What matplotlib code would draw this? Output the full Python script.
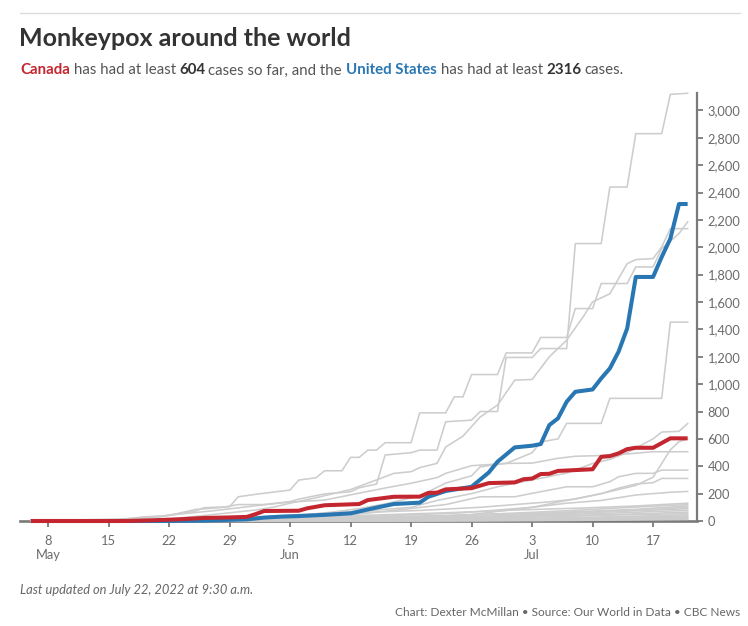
import matplotlib
matplotlib.use("Agg")
import matplotlib.pyplot as plt
import numpy as np
import pandas as pd

# ---------------- data (days since 2022-05-06, cumulative cases) ----------------
START = pd.Timestamp("2022-05-06")

canada_days = [0, 11, 14, 17, 20, 23, 25, 26, 27, 31, 32, 34, 38, 39, 42, 45, 46, 47, 48, 51,
               53, 56, 57, 58, 59, 60, 61, 63, 65, 66, 67, 68, 69, 70, 72, 74, 76]
canada_cases = [0, 0, 5, 12, 22, 26, 30, 50, 73, 75, 93, 115, 124, 153, 177, 178, 205, 207, 231, 240,
                277, 282, 305, 310, 343, 345, 366, 372, 378, 469, 474, 494, 525, 535, 535, 604, 604]

us_days = [0, 15, 20, 25, 27, 29, 31, 34, 37, 38, 40, 42, 45, 46, 48, 51, 53, 54, 56, 58,
           59, 60, 61, 62, 63, 65, 66, 67, 68, 69, 70, 72, 73, 74, 75, 76]
us_cases = [0, 0, 3, 12, 25, 32, 36, 45, 56, 70, 98, 124, 134, 177, 219, 250, 355, 433, 538, 550,
            562, 701, 750, 871, 944, 961, 1042, 1115, 1236, 1406, 1783, 1783, 1929, 2063, 2316, 2316]

uk_days = [0, 8, 11, 13, 15, 16, 19, 20, 23, 24, 26, 30, 31, 33, 34, 36, 37, 38, 39, 40,
           41, 44, 45, 48, 49, 50, 51, 54, 55, 58, 59, 62, 63, 65, 66, 69, 70, 72, 73, 75, 76]
uk_cases = [5, 7, 9, 20, 31, 44, 71, 97, 104, 177, 195, 226, 299, 316, 367, 367, 465, 465, 518, 518,
            572, 572, 790, 790, 907, 907, 1070, 1070, 1228, 1228, 1341, 1341, 1552, 1552, 1735, 1735,
            1856, 1856, 1990, 2100, 2185]

spain_days = [0, 10, 13, 16, 19, 22, 24, 27, 30, 31, 34, 37, 38, 40, 41, 44, 45, 47, 48, 51,
              52, 54, 55, 58, 59, 62, 63, 66, 67, 69, 70, 73, 74, 76]
spain_cases = [7, 7, 30, 40, 84, 98, 120, 120, 142, 160, 198, 214, 243, 270, 482, 499, 518, 518, 725, 737,
               800, 800, 1195, 1195, 1260, 1260, 2027, 2027, 2440, 2440, 2830, 2830, 3117, 3125]

germany_days = [0, 10, 14, 17, 20, 23, 26, 28, 30, 33, 35, 37, 40, 42, 44, 45, 47, 48, 50, 52,
                54, 56, 58, 60, 62, 64, 65, 67, 69, 70, 72, 73, 74, 76]
germany_cases = [0, 0, 5, 20, 40, 60, 80, 100, 130, 170, 200, 230, 300, 348, 360, 390, 421, 540, 620, 760,
                 847, 1029, 1034, 1200, 1321, 1500, 1601, 1660, 1880, 1910, 1917, 2002, 2136, 2136]

france_days = [0, 20, 25, 30, 35, 38, 41, 45, 48, 51, 52, 55, 58, 59, 61, 62, 66, 67, 73, 74, 76]
france_cases = [0, 7, 17, 33, 66, 91, 125, 183, 277, 330, 396, 421, 498, 577, 600, 713, 713, 896, 896, 1453, 1453]

netherlands_days = [0, 14, 21, 28, 35, 40, 44, 47, 51, 54, 58, 62, 65, 67, 69, 72, 73, 75, 76]
netherlands_cases = [0, 2, 10, 35, 60, 80, 100, 150, 200, 250, 300, 350, 420, 450, 500, 600, 650, 655, 712]

brazil_days = [0, 30, 40, 45, 50, 54, 58, 62, 66, 70, 72, 73, 74, 75, 76]
brazil_cases = [0, 0, 10, 20, 40, 70, 100, 150, 200, 260, 320, 420, 520, 580, 600]

portugal_days = [0, 10, 14, 17, 21, 24, 27, 30, 34, 37, 41, 44, 47, 48, 51, 55, 58, 61, 63, 66, 69, 72, 76]
portugal_cases = [0, 14, 27, 49, 74, 96, 119, 138, 153, 191, 241, 276, 317, 348, 404, 421, 423, 458, 473,
                  478, 490, 506, 506]

italy_days = [0, 14, 20, 27, 34, 41, 48, 52, 56, 58, 60, 62, 65, 67, 68, 70, 72, 73, 76]
italy_cases = [0, 3, 9, 20, 29, 70, 120, 177, 177, 202, 226, 250, 250, 287, 323, 348, 348, 372, 372]

belgium_days = [0, 15, 22, 30, 38, 45, 52, 56, 60, 63, 66, 68, 70, 72, 73, 76]
belgium_cases = [0, 2, 14, 30, 62, 77, 100, 120, 140, 160, 200, 240, 270, 280, 311, 311]

switzerland_days = [0, 16, 25, 33, 42, 50, 58, 62, 66, 70, 74, 76]
switzerland_cases = [0, 1, 6, 20, 40, 60, 100, 130, 150, 190, 210, 216]

small1_days = [0, 18, 28, 38, 48, 56, 64, 70, 76]
small1_cases = [0, 2, 15, 40, 60, 80, 95, 110, 130]
small2_days = [0, 25, 35, 45, 55, 62, 68, 76]
small2_cases = [0, 3, 10, 30, 55, 75, 95, 120]
small3_days = [0, 20, 32, 42, 52, 60, 70, 76]
small3_cases = [0, 2, 12, 25, 45, 60, 85, 110]
small4_days = [0, 22, 34, 44, 54, 64, 72, 76]
small4_cases = [0, 5, 20, 35, 50, 65, 85, 100]
small5_days = [0, 30, 40, 50, 60, 68, 76]
small5_cases = [0, 5, 15, 30, 50, 70, 90]
small6_days = [0, 26, 38, 50, 58, 66, 76]
small6_cases = [0, 3, 12, 25, 40, 55, 78]
small7_days = [0, 30, 42, 52, 62, 70, 76]
small7_cases = [0, 2, 10, 22, 38, 52, 65]
small8_days = [0, 35, 45, 55, 65, 76]
small8_cases = [0, 4, 12, 25, 40, 55]
small9_days = [0, 38, 48, 58, 68, 76]
small9_cases = [0, 3, 10, 20, 32, 45]
small10_days = [0, 40, 50, 60, 70, 76]
small10_cases = [0, 2, 8, 16, 28, 38]
small11_days = [0, 42, 54, 64, 76]
small11_cases = [0, 3, 10, 18, 30]
small12_days = [0, 45, 58, 68, 76]
small12_cases = [0, 2, 8, 15, 24]
small13_days = [0, 48, 60, 70, 76]
small13_cases = [0, 2, 6, 12, 18]
small14_days = [0, 50, 62, 72, 76]
small14_cases = [0, 1, 4, 9, 12]

tick_dates = ["2022-05-08", "2022-05-15", "2022-05-22", "2022-05-29", "2022-06-05", "2022-06-12",
              "2022-06-19", "2022-06-26", "2022-07-03", "2022-07-10", "2022-07-17"]
tick_labels = ["8\nMay", "15", "22", "29", "5\nJun", "12", "19", "26", "3\nJul", "10", "17"]
y_ticks = list(range(0, 3001, 200))

title = "Monkeypox around the world"
updated_note = "Last updated on July 22, 2022 at 9:30 a.m."
credit = "Chart: Dexter McMillan \u2022 Source: Our World in Data \u2022 CBC News"

# ---------------- style ----------------
W, H = 748, 626
FONT = "Lato"
plt.rcParams["font.family"] = [FONT, "DejaVu Sans"]
RED = "#c3262f"
BLUE = "#2877b3"
GRAY_LINE = "#cdcdcd"
AXIS = "#7a7a7a"
TXT = "#6b6b6b"

fig = plt.figure(figsize=(W / 100, H / 100), dpi=100)
fig.patch.set_facecolor("white")

ax = fig.add_axes([20 / W, 105 / H, 677 / W, 428 / H])


def to_dates(days):
    return START + pd.to_timedelta(np.asarray(days), unit="D")


gray_series = [
    (spain_days, spain_cases), (uk_days, uk_cases), (germany_days, germany_cases),
    (france_days, france_cases), (netherlands_days, netherlands_cases), (brazil_days, brazil_cases),
    (portugal_days, portugal_cases), (italy_days, italy_cases), (belgium_days, belgium_cases),
    (switzerland_days, switzerland_cases),
    (small1_days, small1_cases), (small2_days, small2_cases), (small3_days, small3_cases),
    (small4_days, small4_cases), (small5_days, small5_cases), (small6_days, small6_cases),
    (small7_days, small7_cases), (small8_days, small8_cases), (small9_days, small9_cases),
    (small10_days, small10_cases), (small11_days, small11_cases), (small12_days, small12_cases),
    (small13_days, small13_cases), (small14_days, small14_cases),
]
for d, c in gray_series:
    ax.plot(to_dates(d), c, color=GRAY_LINE, lw=1.15, zorder=3, clip_on=False,
            solid_joinstyle="round")

ax.plot(to_dates(us_days), us_cases, color=BLUE, lw=2.9, zorder=5, clip_on=False,
        solid_joinstyle="round", solid_capstyle="butt")
ax.plot(to_dates(canada_days), canada_cases, color=RED, lw=2.9, zorder=6, clip_on=False,
        solid_joinstyle="round", solid_capstyle="butt")

ax.set_xlim(START - pd.Timedelta(hours=30), START + pd.Timedelta(hours=int(77.1 * 24)))
ax.set_ylim(0, 3127)

for s in ["top", "left"]:
    ax.spines[s].set_visible(False)
ax.spines["right"].set_color(AXIS)
ax.spines["right"].set_linewidth(1.6)
ax.spines["bottom"].set_color(AXIS)
ax.spines["bottom"].set_linewidth(1.9)
ax.spines["bottom"].set_zorder(2)

ax.yaxis.tick_right()
ax.set_yticks(y_ticks)
ax.set_yticklabels([f"{v:,}" for v in y_ticks])
ax.tick_params(axis="y", length=4.5, width=1.3, color=AXIS, labelcolor=TXT,
               labelsize=9.3, pad=3)
for lbl in ax.get_yticklabels():
    lbl.set_horizontalalignment("left")

ax.set_xticks(pd.to_datetime(tick_dates))
ax.set_xticklabels(tick_labels, linespacing=1.25)
ax.tick_params(axis="x", length=4, width=1.3, color=AXIS, labelcolor=TXT,
               labelsize=9.3, pad=6)

# ---------------- header / footer ----------------
fig.add_artist(plt.Line2D([20 / W, 740 / W], [1 - 12.5 / H, 1 - 12.5 / H],
                          color="#dcdcdc", lw=1.0))
fig.text(19 / W, 1 - 45.5 / H, title, fontsize=18.0, fontweight="bold", color="#333333",
         va="baseline", ha="left")

parts = [("Canada", RED, "bold"), ("has had at least", "#555555", "normal"),
         ("604", "#333333", "bold"), ("cases so far, and the", "#555555", "normal"),
         ("United States", BLUE, "bold"), ("has had at least", "#555555", "normal"),
         ("2316", "#333333", "bold"), ("cases.", "#555555", "normal")]
fig.canvas.draw()
r = fig.canvas.get_renderer()
SUB_FS = 10.85


def text_width(s, weight):
    t = fig.text(0, 0, s, fontsize=SUB_FS, fontweight=weight)
    w = t.get_window_extent(r).width
    t.remove()
    return w


def advance(s, weight):
    # advance width of s, measured between two reference glyphs
    return text_width("x" + s + "x", weight) - text_width("xx", weight)


space_w = advance(" ", "normal")
x = 20.0
for s, col, wt in parts:
    fig.text(x / W, 1 - 74.5 / H, s, fontsize=SUB_FS, color=col, fontweight=wt,
             va="baseline", ha="left")
    step = advance(s, wt) + space_w
    if s.isdigit():
        step -= 1.3  # tabular figures leave extra room after numbers
    x += step

fig.text(20 / W, 1 - 594 / H, updated_note, fontsize=9.3, style="italic", color="#666666",
         va="baseline", ha="left")
fig.text(740 / W, 1 - 616 / H, credit, fontsize=8.6, color="#666666",
         va="baseline", ha="right")

fig.savefig("out.png", dpi=100, facecolor="white")
